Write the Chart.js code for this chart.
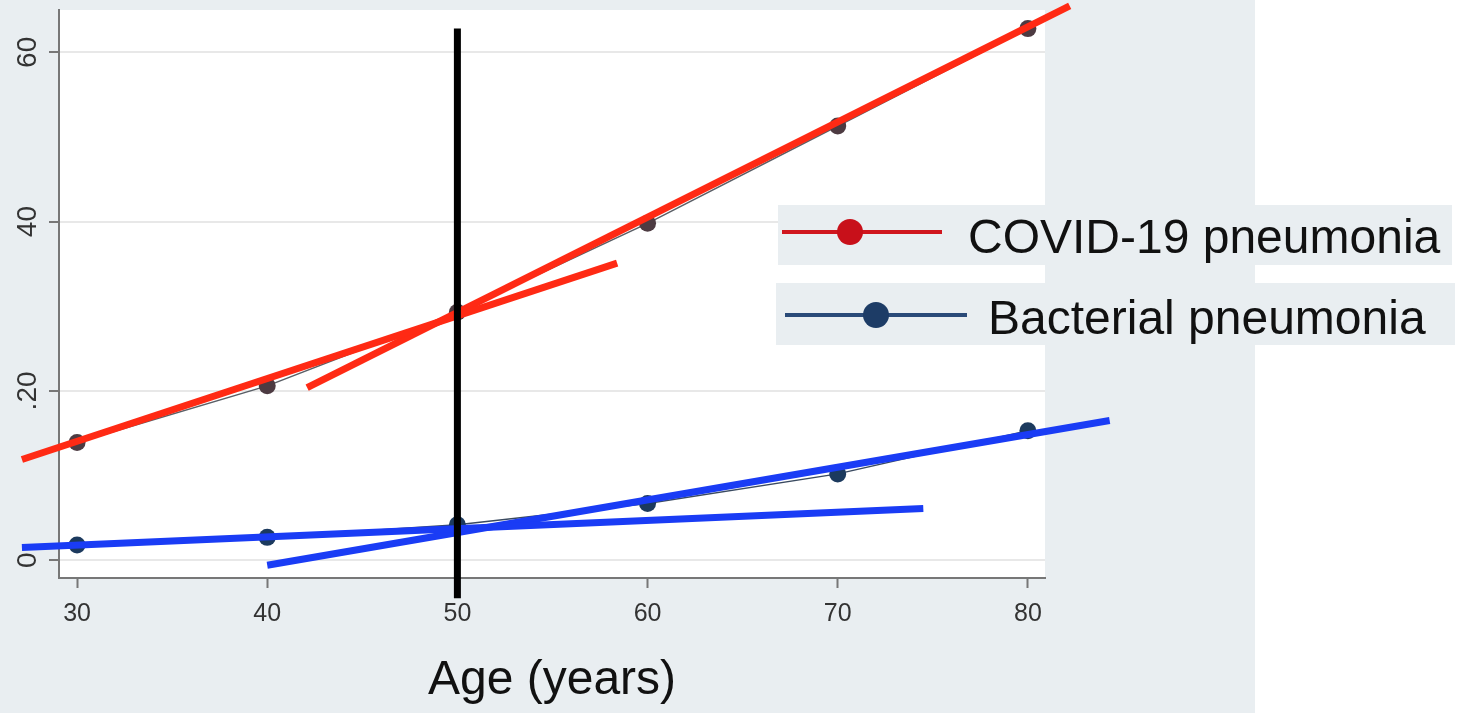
<!DOCTYPE html>
<html>
<head>
<meta charset="utf-8">
<script src="https://cdn.jsdelivr.net/npm/chart.js@4.4.1/dist/chart.umd.min.js"></script>
<style>
  body { margin: 0; background: #fff; }
  canvas { display: block; }
</style>
</head>
<body>
<canvas id="riskChart" width="1465" height="713"></canvas>
<script>
// observed values by age
const ages = [30, 40, 50, 60, 70, 80];
const covidRisk = [13.9, 20.6, 29.3, 39.8, 51.3, 62.8];
const bacterialRisk = [1.8, 2.7, 4.2, 6.7, 10.2, 15.3];

// fitted lines below / above the age 50 cut, [age, value] at each end
const covidFitLow = [[27.1, 11.9], [58.4, 35.1]];
const covidFitHigh = [[42.1, 20.4], [82.2, 65.5]];
const bactFitLow = [[27.1, 1.5], [74.5, 6.1]];
const bactFitHigh = [[40.0, -0.6], [84.3, 16.5]];

// vertical cut at 50 years
const cutAge = 50;
const cutSpan = [-4.5, 62.8];

const xTicks = [30, 40, 50, 60, 70, 80];
const yTicks = [0, 20, 40, 60];
const yTickLabels = ["0", ".20", "40", "60"];

const seriesNames = ["COVID-19 pneumonia", "Bacterial pneumonia"];

const FONT = '"Liberation Sans", Arial, sans-serif';

function pairs(xs, ys) {
    return xs.map((x, i) => ({ x: x, y: ys[i] }));
}
function seg(ends) {
    return ends.map((p) => ({ x: p[0], y: p[1] }));
}
function fitLine(ends, color) {
    return {
        data: seg(ends),
        borderColor: color,
        borderWidth: 7,
        pointRadius: 0,
        clip: false,
        order: 1,
    };
}

// backgrounds: grey graph region, white plot area, white strip on the right
const backdrop = {
    id: "backdrop",
    beforeDraw(chart) {
        const { ctx, chartArea } = chart;
        ctx.save();
        ctx.fillStyle = "#ffffff";
        ctx.fillRect(0, 0, chart.width, chart.height);
        ctx.fillStyle = "#e9eef1";
        ctx.fillRect(0, 0, 1255, chart.height);
        ctx.fillStyle = "#ffffff";
        ctx.fillRect(chartArea.left, chartArea.top, chartArea.right - chartArea.left, chartArea.bottom - chartArea.top);
        ctx.restore();
    },
};

// y labels are vertical, reading upwards
const yLabels = {
    id: "yLabels",
    afterDraw(chart) {
        const scale = chart.scales.y;
        const ctx = chart.ctx;
        ctx.save();
        ctx.font = "28px " + FONT;
        ctx.fillStyle = "#333";
        ctx.textAlign = "center";
        ctx.textBaseline = "middle";
        scale.ticks.forEach((t, i) => {
            const py = scale.getPixelForValue(t.value);
            ctx.save();
            ctx.translate(28, py);
            ctx.rotate(-Math.PI / 2);
            ctx.fillText(yTickLabels[i], 0, 0);
            ctx.restore();
        });
        ctx.restore();
    },
};

// two separate legend boxes to the right
const legendBoxes = {
    id: "legendBoxes",
    afterDraw(chart) {
        const ctx = chart.ctx;
        const rows = [
            { box: [778, 205, 674, 60], x0: 782, x1: 942, ly: 232, dx: 850, line: "#d0161e", dot: "#c8101a", tx: 968, base: 253 },
            { box: [776, 283, 679, 62], x0: 785, x1: 967, ly: 315, dx: 876, line: "#2a4a78", dot: "#1d3c66", tx: 988, base: 334 },
        ];
        ctx.save();
        rows.forEach((r, i) => {
            ctx.fillStyle = "#e9eef1";
            ctx.fillRect(r.box[0], r.box[1], r.box[2], r.box[3]);
            ctx.strokeStyle = r.line;
            ctx.lineWidth = 4;
            ctx.beginPath();
            ctx.moveTo(r.x0, r.ly);
            ctx.lineTo(r.x1, r.ly);
            ctx.stroke();
            ctx.fillStyle = r.dot;
            ctx.beginPath();
            ctx.arc(r.dx, r.ly, 13, 0, Math.PI * 2);
            ctx.fill();
            ctx.fillStyle = "#111";
            ctx.font = "48px " + FONT;
            ctx.textAlign = "left";
            ctx.textBaseline = "alphabetic";
            ctx.fillText(seriesNames[i], r.tx, r.base);
        });
        ctx.restore();
    },
};

new Chart(document.getElementById("riskChart"), {
    type: "line",
    data: {
        datasets: [
            {
                data: seg([[cutAge, cutSpan[0]], [cutAge, cutSpan[1]]]),
                borderColor: "#000",
                borderWidth: 7,
                pointRadius: 0,
                clip: false,
                order: 0,
            },
            fitLine(covidFitLow, "#ff2a14"),
            fitLine(covidFitHigh, "#ff2a14"),
            fitLine(bactFitLow, "#1a3cf5"),
            fitLine(bactFitHigh, "#1a3cf5"),
            {
                label: seriesNames[0],
                data: pairs(ages, covidRisk),
                borderColor: "#5a5f66",
                borderWidth: 1.5,
                pointRadius: 8.5,
                pointBackgroundColor: "#4d3b42",
                pointBorderWidth: 0,
                clip: false,
                order: 2,
            },
            {
                label: seriesNames[1],
                data: pairs(ages, bacterialRisk),
                borderColor: "#3a4a60",
                borderWidth: 1.5,
                pointRadius: 8.5,
                pointBackgroundColor: "#1c3a5e",
                pointBorderWidth: 0,
                clip: false,
                order: 2,
            },
        ],
    },
    options: {
        responsive: false,
        animation: false,
        layout: { padding: { left: 0, right: 420, top: 10, bottom: 0 } },
        plugins: {
            legend: { display: false },
            tooltip: { enabled: false },
        },
        scales: {
            x: {
                type: "linear",
                position: "bottom",
                min: 29.05,
                max: 80.9,
                afterBuildTicks: (s) => {
                    s.ticks = xTicks.map((v) => ({ value: v }));
                },
                afterFit: (s) => {
                    s.height = 135;
                },
                ticks: {
                    font: { family: FONT, size: 25 },
                    color: "#333",
                    padding: 11,
                    maxRotation: 0,
                    autoSkip: false,
                },
                grid: {
                    drawOnChartArea: false,
                    tickLength: 10,
                    tickColor: "#777",
                    tickWidth: 2,
                },
                border: { color: "#777", width: 2 },
                title: {
                    display: true,
                    text: "Age (years)",
                    font: { family: FONT, size: 48 },
                    color: "#111",
                    padding: { top: 0, bottom: 3 },
                },
            },
            y: {
                type: "linear",
                min: -2.1,
                max: 65,
                afterBuildTicks: (s) => {
                    s.ticks = yTicks.map((v) => ({ value: v }));
                },
                afterFit: (s) => {
                    s.width = 59;
                },
                ticks: { display: false },
                grid: {
                    color: "#e8e8e8",
                    lineWidth: 2,
                    tickLength: 10,
                    tickColor: "#777",
                    tickWidth: 2,
                },
                border: { color: "#777", width: 2 },
            },
        },
    },
    plugins: [backdrop, yLabels, legendBoxes],
});
</script>
</body>
</html>
